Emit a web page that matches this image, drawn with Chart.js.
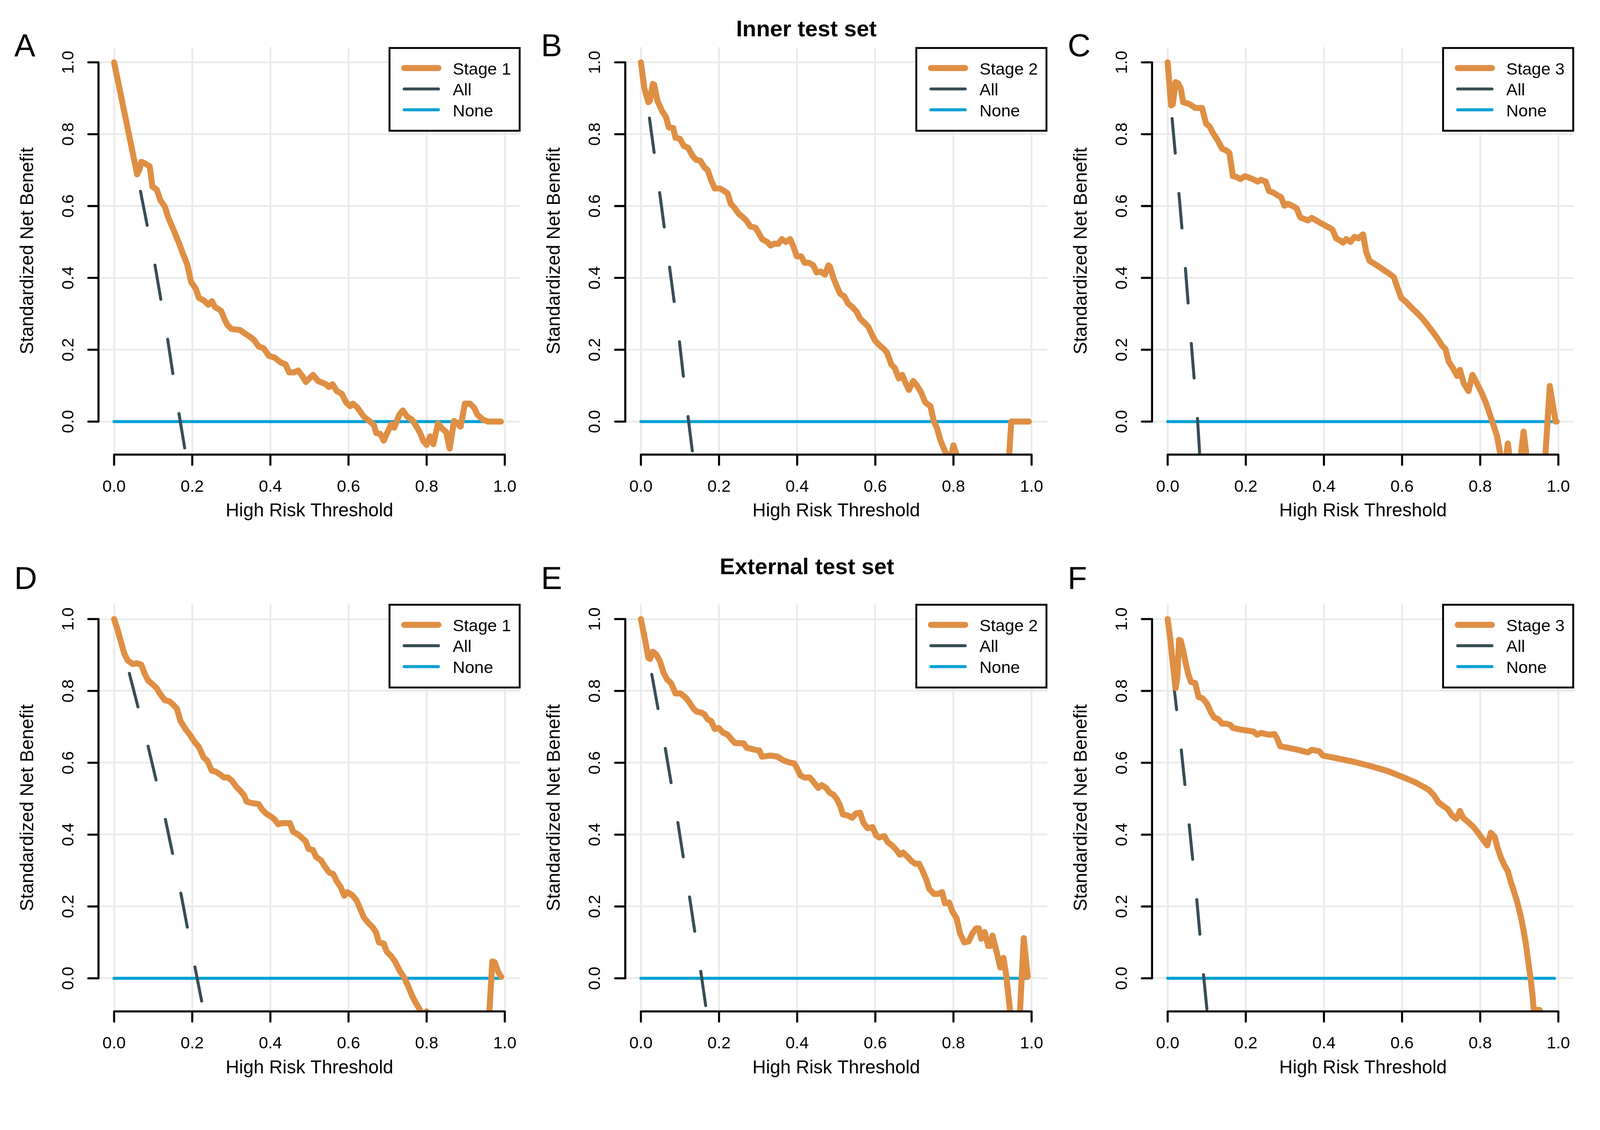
<!DOCTYPE html>
<html><head><meta charset="utf-8">
<script src="https://cdn.jsdelivr.net/npm/chart.js@4/dist/chart.umd.min.js"></script>
<style>
html,body{margin:0;padding:0;background:#fff;overflow:hidden;}
#fig{position:relative;overflow:hidden;background:#fff;}
#fig canvas{position:absolute;}
</style></head><body><div id="fig"></div>
<script>
// ---------- data ----------
const xTicks = [0, 0.2, 0.4, 0.6, 0.8, 1.0];
const yTicks = [0, 0.2, 0.4, 0.6, 0.8, 1.0];
const tickLabels = ['0.0', '0.2', '0.4', '0.6', '0.8', '1.0'];
const stageNames = ['Stage 1', 'Stage 2', 'Stage 3', 'Stage 1', 'Stage 2', 'Stage 3'];
const panelLetters = ['A', 'B', 'C', 'D', 'E', 'F'];
const rowTitles = ['Inner test set', 'External test set'];
const xTitle = 'High Risk Threshold';
const yTitle = 'Standardized Net Benefit';

const stageA = [[0,1],[0.059,0.688],[0.065,0.702],[0.0696,0.723],[0.078,0.719],[0.0913,0.71],[0.098,0.654],[0.109,0.646],[0.119,0.615],[0.13,0.598],[0.139,0.567],[0.152,0.534],[0.165,0.5],[0.1765,0.466],[0.187,0.438],[0.197,0.389],[0.209,0.37],[0.217,0.344],[0.23,0.337],[0.241,0.325],[0.25,0.335],[0.258,0.319],[0.274,0.308],[0.283,0.284],[0.29,0.269],[0.3,0.258],[0.322,0.255],[0.335,0.245],[0.348,0.236],[0.359,0.226],[0.37,0.209],[0.383,0.204],[0.396,0.183],[0.411,0.178],[0.426,0.165],[0.439,0.159],[0.448,0.137],[0.461,0.137],[0.471,0.142],[0.483,0.125],[0.491,0.11],[0.509,0.13],[0.522,0.113],[0.542,0.104],[0.55,0.096],[0.559,0.104],[0.57,0.085],[0.583,0.077],[0.594,0.053],[0.604,0.043],[0.611,0.05],[0.622,0.04],[0.639,0.014],[0.655,0],[0.665,-0.01],[0.671,-0.032],[0.681,-0.034],[0.69,-0.053],[0.7,-0.029],[0.709,-0.008],[0.717,-0.017],[0.73,0.019],[0.739,0.031],[0.75,0.014],[0.763,0.005],[0.774,-0.014],[0.783,-0.031],[0.791,-0.053],[0.8,-0.065],[0.809,-0.041],[0.817,-0.063],[0.829,-0.005],[0.839,-0.019],[0.85,-0.029],[0.859,-0.075],[0.87,0.002],[0.887,-0.014],[0.898,0.05],[0.911,0.05],[0.922,0.038],[0.93,0.019],[0.945,0.005],[0.957,0],[0.99,0]];
const stageB = [[0,1],[0.0087,0.928],[0.019,0.889],[0.0235,0.894],[0.0304,0.94],[0.034,0.938],[0.0426,0.892],[0.054,0.865],[0.064,0.848],[0.0713,0.819],[0.0826,0.817],[0.0887,0.79],[0.1,0.787],[0.11,0.767],[0.121,0.762],[0.132,0.74],[0.141,0.729],[0.152,0.726],[0.163,0.707],[0.171,0.7],[0.18,0.671],[0.189,0.649],[0.202,0.649],[0.213,0.642],[0.222,0.635],[0.23,0.606],[0.239,0.596],[0.25,0.579],[0.263,0.567],[0.271,0.558],[0.28,0.543],[0.293,0.54],[0.302,0.524],[0.31,0.508],[0.323,0.5],[0.332,0.49],[0.341,0.495],[0.352,0.495],[0.361,0.508],[0.371,0.5],[0.382,0.508],[0.39,0.488],[0.399,0.46],[0.41,0.46],[0.419,0.442],[0.43,0.442],[0.441,0.435],[0.45,0.415],[0.46,0.418],[0.471,0.409],[0.48,0.435],[0.484,0.431],[0.493,0.399],[0.502,0.375],[0.51,0.356],[0.521,0.348],[0.53,0.329],[0.541,0.319],[0.552,0.306],[0.561,0.287],[0.573,0.274],[0.582,0.264],[0.589,0.248],[0.599,0.226],[0.61,0.213],[0.622,0.202],[0.63,0.192],[0.641,0.159],[0.65,0.149],[0.66,0.12],[0.669,0.13],[0.676,0.111],[0.686,0.088],[0.697,0.113],[0.706,0.101],[0.717,0.082],[0.728,0.053],[0.741,0.043],[0.75,0],[0.758,-0.019],[0.767,-0.053],[0.778,-0.082],[0.787,-0.1],[0.796,-0.087],[0.8,-0.066],[0.81,-0.1],[0.82,-0.14],[0.94,-0.14],[0.948,0],[0.993,0]];
const stageC = [[0,1],[0.0088,0.88],[0.0132,0.883],[0.0202,0.945],[0.0264,0.942],[0.0334,0.928],[0.0396,0.889],[0.0528,0.885],[0.0616,0.88],[0.0704,0.873],[0.088,0.873],[0.0985,0.829],[0.107,0.822],[0.116,0.803],[0.1275,0.784],[0.139,0.76],[0.1495,0.755],[0.158,0.748],[0.167,0.683],[0.176,0.681],[0.186,0.675],[0.198,0.683],[0.211,0.678],[0.222,0.673],[0.23,0.668],[0.239,0.673],[0.251,0.668],[0.259,0.642],[0.271,0.637],[0.281,0.63],[0.29,0.625],[0.299,0.601],[0.308,0.606],[0.318,0.601],[0.33,0.594],[0.339,0.569],[0.347,0.565],[0.359,0.56],[0.369,0.567],[0.38,0.56],[0.391,0.553],[0.403,0.546],[0.413,0.54],[0.422,0.534],[0.431,0.51],[0.44,0.505],[0.449,0.498],[0.457,0.508],[0.468,0.5],[0.478,0.514],[0.488,0.51],[0.5,0.521],[0.508,0.473],[0.517,0.447],[0.528,0.44],[0.541,0.431],[0.554,0.421],[0.567,0.412],[0.579,0.402],[0.589,0.37],[0.598,0.344],[0.611,0.332],[0.624,0.317],[0.638,0.303],[0.651,0.288],[0.664,0.271],[0.677,0.252],[0.69,0.233],[0.702,0.212],[0.711,0.202],[0.719,0.168],[0.73,0.149],[0.741,0.127],[0.748,0.144],[0.758,0.106],[0.77,0.085],[0.78,0.13],[0.791,0.108],[0.805,0.077],[0.816,0.048],[0.825,0.019],[0.834,-0.01],[0.843,-0.04],[0.853,-0.1],[0.86,-0.15],[0.8707,-0.061],[0.881,-0.15],[0.897,-0.16],[0.911,-0.028],[0.926,-0.16],[0.955,-0.3],[0.978,0.099],[0.993,0],[0.996,0]];
const stageD = [[0,1],[0.0087,0.971],[0.0174,0.937],[0.026,0.904],[0.0348,0.885],[0.0478,0.875],[0.0583,0.877],[0.0696,0.873],[0.0783,0.848],[0.087,0.829],[0.0983,0.819],[0.1087,0.808],[0.117,0.793],[0.13,0.774],[0.1417,0.771],[0.152,0.761],[0.161,0.75],[0.17,0.716],[0.1826,0.694],[0.194,0.678],[0.206,0.658],[0.217,0.644],[0.229,0.615],[0.239,0.605],[0.25,0.578],[0.261,0.575],[0.272,0.567],[0.281,0.559],[0.2913,0.559],[0.3017,0.55],[0.313,0.533],[0.324,0.521],[0.333,0.509],[0.339,0.492],[0.352,0.488],[0.37,0.485],[0.378,0.471],[0.389,0.459],[0.403,0.449],[0.411,0.442],[0.42,0.429],[0.43,0.432],[0.45,0.432],[0.458,0.408],[0.47,0.401],[0.478,0.394],[0.49,0.382],[0.498,0.36],[0.509,0.357],[0.517,0.338],[0.53,0.328],[0.539,0.312],[0.55,0.295],[0.561,0.29],[0.57,0.27],[0.58,0.254],[0.589,0.23],[0.597,0.24],[0.609,0.232],[0.62,0.218],[0.629,0.196],[0.639,0.17],[0.65,0.155],[0.661,0.143],[0.67,0.129],[0.678,0.1],[0.69,0.097],[0.698,0.074],[0.709,0.062],[0.719,0.047],[0.73,0.023],[0.743,0.001],[0.752,-0.02],[0.763,-0.049],[0.771,-0.066],[0.783,-0.088],[0.79,-0.11],[0.8,-0.092],[0.81,-0.12],[0.958,-0.14],[0.968,0.047],[0.974,0.045],[0.983,0.018],[0.991,0.004]];
const stageE = [[0,1],[0.0104,0.944],[0.019,0.892],[0.0235,0.889],[0.0304,0.909],[0.039,0.902],[0.0478,0.885],[0.058,0.851],[0.067,0.832],[0.077,0.822],[0.0887,0.793],[0.1017,0.793],[0.1148,0.781],[0.1235,0.769],[0.135,0.75],[0.1435,0.742],[0.154,0.74],[0.1626,0.735],[0.171,0.721],[0.18,0.716],[0.189,0.694],[0.199,0.697],[0.21,0.684],[0.222,0.678],[0.232,0.665],[0.241,0.655],[0.263,0.654],[0.271,0.642],[0.293,0.636],[0.303,0.634],[0.31,0.617],[0.332,0.62],[0.35,0.617],[0.364,0.607],[0.38,0.601],[0.393,0.598],[0.399,0.586],[0.408,0.565],[0.419,0.559],[0.432,0.559],[0.441,0.548],[0.454,0.53],[0.463,0.538],[0.474,0.53],[0.483,0.517],[0.493,0.511],[0.502,0.498],[0.51,0.48],[0.517,0.456],[0.53,0.453],[0.541,0.447],[0.55,0.459],[0.561,0.461],[0.57,0.432],[0.58,0.418],[0.593,0.421],[0.602,0.398],[0.61,0.392],[0.623,0.396],[0.632,0.379],[0.643,0.37],[0.654,0.357],[0.663,0.344],[0.671,0.35],[0.683,0.338],[0.693,0.326],[0.702,0.319],[0.712,0.319],[0.721,0.299],[0.73,0.276],[0.738,0.249],[0.75,0.235],[0.761,0.235],[0.771,0.24],[0.778,0.209],[0.789,0.211],[0.797,0.187],[0.808,0.167],[0.817,0.124],[0.828,0.1],[0.839,0.103],[0.848,0.124],[0.858,0.139],[0.865,0.139],[0.871,0.11],[0.88,0.129],[0.889,0.09],[0.895,0.09],[0.9,0.119],[0.911,0.071],[0.92,0.03],[0.928,0.057],[0.935,0.009],[0.945,-0.092],[0.95,-0.14],[0.968,-0.14],[0.98,0.112],[0.99,0.004]];
const stageF = [[0,1],[0.007,0.942],[0.0132,0.875],[0.0202,0.808],[0.0246,0.836],[0.029,0.942],[0.0334,0.94],[0.0396,0.913],[0.0457,0.88],[0.0528,0.846],[0.0598,0.825],[0.0704,0.822],[0.0792,0.783],[0.0897,0.779],[0.101,0.764],[0.11,0.742],[0.119,0.726],[0.13,0.721],[0.139,0.709],[0.1495,0.709],[0.16,0.706],[0.167,0.697],[0.189,0.692],[0.202,0.69],[0.22,0.687],[0.229,0.678],[0.239,0.683],[0.259,0.678],[0.273,0.68],[0.28,0.668],[0.288,0.646],[0.308,0.642],[0.334,0.636],[0.359,0.629],[0.369,0.636],[0.388,0.632],[0.3975,0.62],[0.431,0.613],[0.475,0.603],[0.519,0.591],[0.563,0.577],[0.598,0.562],[0.633,0.546],[0.655,0.533],[0.669,0.524],[0.682,0.509],[0.693,0.49],[0.705,0.48],[0.717,0.471],[0.728,0.453],[0.739,0.444],[0.748,0.466],[0.756,0.447],[0.77,0.434],[0.783,0.421],[0.796,0.403],[0.807,0.386],[0.818,0.37],[0.827,0.405],[0.837,0.394],[0.844,0.365],[0.853,0.336],[0.862,0.315],[0.871,0.297],[0.878,0.269],[0.887,0.24],[0.895,0.211],[0.904,0.172],[0.91,0.139],[0.917,0.095],[0.923,0.047],[0.93,-0.01],[0.934,-0.049],[0.937,-0.088],[0.952,-0.088]];

const allA = [[0,1],[0.067,0.644],[0.1043,0.4375],[0.1365,0.233],[0.1653,0.027],[0.1814,-0.078]];
const allB = [[0,1],[0.0217,0.846],[0.0478,0.639],[0.073,0.433],[0.0983,0.226],[0.12,0.019],[0.1322,-0.087]];
const allC = [[0,1],[0.0114,0.843],[0.029,0.633],[0.0457,0.423],[0.0607,0.214],[0.0765,0.005],[0.0818,-0.087]];
const allD = [[0,1],[0.039,0.849],[0.087,0.646],[0.131,0.444],[0.17,0.242],[0.206,0.036],[0.225,-0.068]];
const allE = [[0,1],[0.0278,0.846],[0.0626,0.639],[0.0948,0.432],[0.125,0.223],[0.154,0.0135],[0.168,-0.092]];
const allF = [[0,1],[0.0176,0.798],[0.035,0.634],[0.0554,0.424],[0.0748,0.216],[0.0923,0.004],[0.101,-0.092]];
const noneLine = [[0,0],[0.99,0]];

const stageSeries = [stageA, stageB, stageC, stageD, stageE, stageF];
const allSeries = [allA, allB, allC, allD, allE, allF];

// ---------- layout / style (reference pixel units, scaled to viewport) ----------
const REF_W = 4253, REF_H = 2893;
const S = Math.min((window.innerWidth || REF_W) / REF_W, (window.innerHeight || REF_H) / REF_H);
const k = v => v * S;
const COL_X0 = [303.3, 1703.6, 3103.8];
const ROW_Y0 = [1120.7, 2600.7];
const XU = 1038.5, YU = 955;
const XMIN = -0.04, XMAX = 1.04, YMIN = -0.092, YMAX = 1.042;
const LETTER_X = [38, 1438, 2838], LETTER_Y = [150, 1566];
const TITLE_X = [2143.5, 2145], TITLE_Y = [96.7, 1526.5];
const FONT = '"Liberation Sans", Arial, Helvetica, sans-serif';
const C_STAGE = '#DF8F44', C_ALL = '#374E55', C_NONE = '#00A1D5', C_GRID = '#EBEBEB';

const toPts = arr => arr.map(p => ({x: p[0], y: p[1]}));
const fpx = n => k(n).toFixed(2) + 'px ';

function decor(chart, p) {
  const ctx = chart.ctx, a = chart.chartArea;
  const xs = chart.scales.x, ys = chart.scales.y;
  ctx.save();
  ctx.strokeStyle = '#000'; ctx.fillStyle = '#000';
  ctx.lineWidth = k(5.5); ctx.lineCap = 'round'; ctx.setLineDash([]);
  const xa = xs.getPixelForValue(xTicks[0]), xb = xs.getPixelForValue(xTicks[xTicks.length - 1]);
  const ya = ys.getPixelForValue(yTicks[0]), yb = ys.getPixelForValue(yTicks[yTicks.length - 1]);
  ctx.beginPath();
  ctx.moveTo(xa, a.bottom); ctx.lineTo(xb, a.bottom);
  xTicks.forEach(v => { const px = xs.getPixelForValue(v); ctx.moveTo(px, a.bottom); ctx.lineTo(px, a.bottom + k(27)); });
  ctx.moveTo(a.left, ya); ctx.lineTo(a.left, yb);
  yTicks.forEach(v => { const py = ys.getPixelForValue(v); ctx.moveTo(a.left, py); ctx.lineTo(a.left - k(27), py); });
  ctx.stroke();
  ctx.font = fpx(44.5) + FONT;
  ctx.textAlign = 'center'; ctx.textBaseline = 'alphabetic';
  xTicks.forEach((v, i) => ctx.fillText(tickLabels[i], xs.getPixelForValue(v), a.bottom + k(98.5)));
  yTicks.forEach((v, i) => {
    ctx.save(); ctx.translate(a.left - k(67), ys.getPixelForValue(v)); ctx.rotate(-Math.PI / 2);
    ctx.fillText(tickLabels[i], 0, 0); ctx.restore();
  });
  ctx.font = fpx(49.5) + FONT;
  ctx.fillText(xTitle, (a.left + a.right) / 2, a.bottom + k(164.5));
  ctx.save(); ctx.translate(a.left - k(174), (a.top + a.bottom) / 2); ctx.rotate(-Math.PI / 2);
  ctx.fillText(yTitle, 0, 0); ctx.restore();
  // legend
  const bl = a.right - k(348), bt = a.top + k(2);
  ctx.fillStyle = '#fff'; ctx.fillRect(bl, bt, k(346), k(220));
  ctx.lineWidth = k(5); ctx.lineCap = 'butt'; ctx.strokeStyle = '#000';
  ctx.strokeRect(bl, bt, k(346), k(220));
  const items = [[p.name, C_STAGE, 16], ['All', C_ALL, 8], ['None', C_NONE, 8]];
  ctx.font = fpx(45) + FONT; ctx.textAlign = 'left';
  items.forEach((it, j) => {
    const ly = a.top + k(55.4 + j * 55.5);
    ctx.strokeStyle = it[1]; ctx.lineWidth = k(it[2]); ctx.lineCap = 'round';
    ctx.beginPath(); ctx.moveTo(a.right - k(309), ly); ctx.lineTo(a.right - k(218), ly); ctx.stroke();
    ctx.fillStyle = '#000';
    ctx.fillText(it[0], a.right - k(180), ly + k(17));
  });
  ctx.font = fpx(84) + FONT; ctx.textAlign = 'left';
  ctx.fillText(p.letter, k(LETTER_X[p.col]) - p.cl, k(LETTER_Y[p.row]) - p.ct);
  if (p.col === 1) {
    ctx.font = 'bold ' + fpx(60) + FONT; ctx.textAlign = 'center';
    ctx.fillText(rowTitles[p.row], k(TITLE_X[p.row]) - p.cl, k(TITLE_Y[p.row]) - p.ct);
  }
  ctx.restore();
}

const fig = document.getElementById('fig');
fig.style.width = k(REF_W) + 'px'; fig.style.height = k(REF_H) + 'px';
const DPR = window.devicePixelRatio || 1;
for (let i = 0; i < 6; i++) {
  const row = Math.floor(i / 3), col = i % 3;
  const pl = k(COL_X0[col] + XMIN * XU), pr = k(COL_X0[col] + XMAX * XU);
  const pt = k(ROW_Y0[row] - YMAX * YU), pb = k(ROW_Y0[row] - YMIN * YU);
  const cl = Math.floor(pl - k(280)), ct = Math.floor(pt - k(140));
  const cr = Math.ceil(pr + k(20)), cb = Math.ceil(pb + k(200));
  const cv = document.createElement('canvas');
  cv.style.left = cl + 'px'; cv.style.top = ct + 'px';
  cv.style.width = (cr - cl) + 'px'; cv.style.height = (cb - ct) + 'px';
  cv.width = cr - cl; cv.height = cb - ct;
  fig.appendChild(cv);
  const info = {row, col, cl, ct, name: stageNames[i], letter: panelLetters[i]};
  const tickSetter = vals => (s => { s.ticks = vals.map(v => ({value: v})); });
  new Chart(cv, {
    type: 'line',
    data: {
      datasets: [
        {label: stageNames[i], data: toPts(stageSeries[i]), borderColor: C_STAGE, borderWidth: k(16), clip: 0},
        {label: 'All', data: toPts(allSeries[i]), borderColor: C_ALL, borderWidth: k(8), borderDash: [k(92), k(108)], borderDashOffset: k(50), clip: 0},
        {label: 'None', data: toPts(noneLine), borderColor: C_NONE, borderWidth: k(8), clip: 0}
      ]
    },
    options: {
      responsive: false, maintainAspectRatio: false, animation: false, devicePixelRatio: DPR,
      layout: {padding: {left: pl - cl, right: cr - pr, top: pt - ct, bottom: cb - pb}},
      elements: {point: {radius: 0}, line: {tension: 0, borderCapStyle: 'round', borderJoinStyle: 'round', fill: false}},
      plugins: {legend: {display: false}, tooltip: {enabled: false}, title: {display: false}},
      scales: {
        x: {type: 'linear', min: XMIN, max: XMAX, afterBuildTicks: tickSetter(xTicks),
            ticks: {display: false}, grid: {color: C_GRID, lineWidth: k(5), drawTicks: false}, border: {display: false}},
        y: {type: 'linear', min: YMIN, max: YMAX, afterBuildTicks: tickSetter(yTicks),
            ticks: {display: false}, grid: {color: C_GRID, lineWidth: k(5), drawTicks: false}, border: {display: false}}
      }
    },
    plugins: [{id: 'rdecor' + i, afterDraw: c => decor(c, info)}]
  });
}
</script></body></html>
